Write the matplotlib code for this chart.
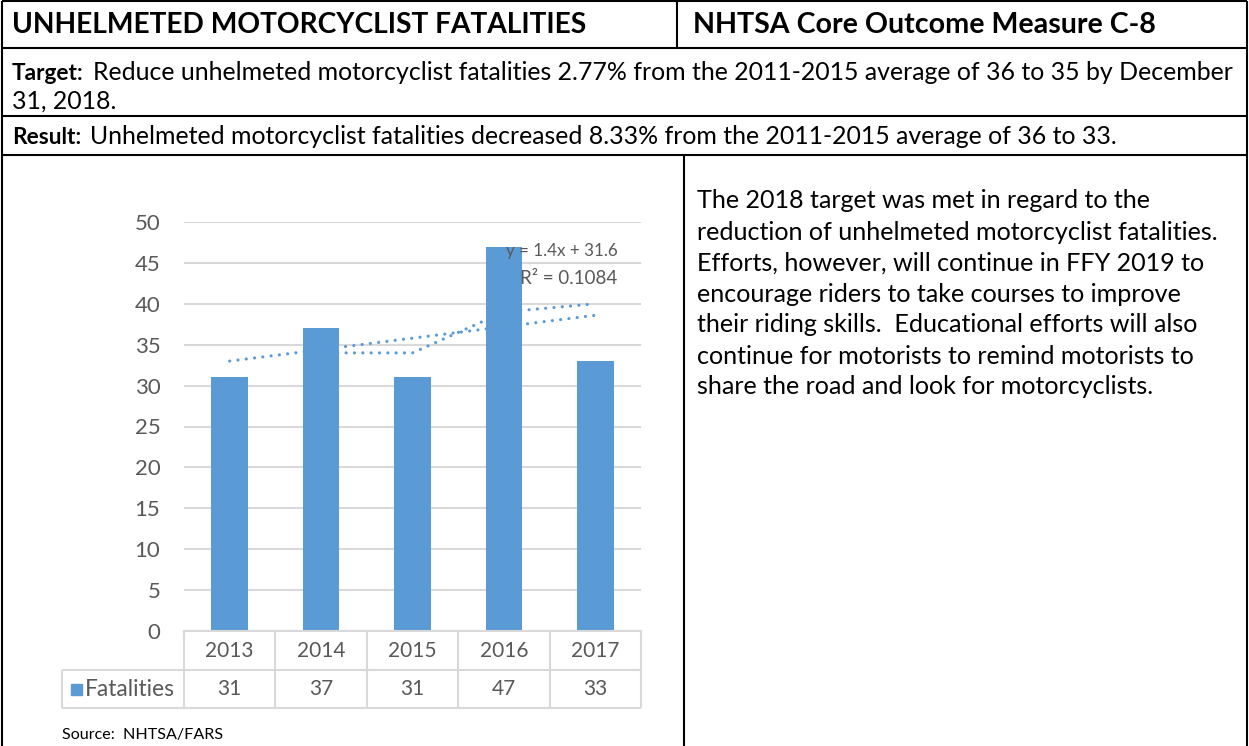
import matplotlib
matplotlib.use("Agg")
import matplotlib.pyplot as plt
from matplotlib.lines import Line2D
from matplotlib.patches import Rectangle

# ---------------- data ----------------
years = ["2013", "2014", "2015", "2016", "2017"]
fatalities = [31, 37, 31, 47, 33]
series_name = "Fatalities"
trend_slope = 1.4
trend_intercept = 31.6
trend_r2 = 0.1084
moving_avg = [34, 34, 39, 40]          # 2-period moving average, 2014-2017
y_ticks = [0, 5, 10, 15, 20, 25, 30, 35, 40, 45, 50]

header_left = "UNHELMETED MOTORCYCLIST FATALITIES"
header_right = "NHTSA Core Outcome Measure C-8"
target_label = "Target:"
target_text1 = "Reduce unhelmeted motorcyclist fatalities 2.77% from the 2011-2015 average of 36 to 35 by December"
target_text2 = "31, 2018."
result_label = "Result:"
result_text = "Unhelmeted motorcyclist fatalities decreased 8.33% from the 2011-2015 average of 36 to 33."
side_lines = [
    "The 2018 target was met in regard to the",
    "reduction of unhelmeted motorcyclist fatalities.",
    "Efforts, however, will continue in FFY 2019 to",
    "encourage riders to take courses to improve",
    "their riding skills.  Educational efforts will also",
    "continue for motorists to remind motorists to",
    "share the road and look for motorcyclists.",
]
source_text = "Source:  NHTSA/FARS"

# ---------------- style ----------------
FONT = "Lato"
BLUE = "#5B9BD5"
GRAY_TXT = "#595959"
GRID = "#D9D9D9"

W, H = 1249, 746
fig = plt.figure(figsize=(W / 100, H / 100), dpi=100)
renderer = fig.canvas.get_renderer()


def fx(x):
    return x / W


def fy(y):
    return 1 - y / H


def ptext(x, y, s, target_w=None, size=12, ha="left", va="center", **kw):
    kw.setdefault("family", FONT)
    t = fig.text(fx(x), fy(y), s, fontsize=size, ha=ha, va=va, **kw)
    if target_w:
        w = t.get_window_extent(renderer).width
        t.set_fontsize(size * target_w / w)
    return t


def width_of(t):
    return t.get_window_extent(renderer).width


def fit_size(s, target_w, weight="normal", size=12):
    t = fig.text(0, 0, s, fontsize=size, family=FONT, weight=weight)
    w = t.get_window_extent(renderer).width
    t.remove()
    return size * target_w / w


def pline(x0, y0, x1, y1, color="black", lw=1.5, z=5):
    fig.add_artist(Line2D([fx(x0), fx(x1)], [fy(y0), fy(y1)], color=color,
                          lw=lw, zorder=z, solid_capstyle="butt"))


# ---------------- document table borders ----------------
BL = 1.5
pline(2, 1, 1247, 1, lw=BL)
pline(2, 1, 2, 746, lw=BL)
pline(1247, 1, 1247, 746, lw=BL)
pline(2, 48, 1247, 48, lw=BL)
pline(2, 116, 1247, 116, lw=BL)
pline(2, 155, 1247, 155, lw=BL)
pline(677, 1, 677, 48, lw=BL)
pline(684, 155, 684, 746, lw=BL)

# ---------------- header / target / result text ----------------
hs = fit_size(header_left, 576, weight="bold")
ptext(12, 25, header_left, size=hs, weight="bold")
ptext(693, 25, header_right, target_w=464, size=hs, weight="bold")

bs0 = fit_size(target_text1, 1150)
lab_size = bs0 * 0.9
tl = ptext(12, 73, target_label, size=lab_size, weight="bold")
rest_x = 12 + width_of(tl) + 9
bs = fit_size(target_text1, 1232 - rest_x)
ptext(rest_x, 73, target_text1, size=bs)
ptext(12, 101, target_text2, size=bs)
rl = ptext(12, 137, result_label, size=lab_size, weight="bold")
ptext(12 + width_of(rl) + 9, 137, result_text, size=bs)

ss = fit_size(side_lines[1], 521)
for i, line in enumerate(side_lines):
    ptext(697, 201 + i * 31, line, size=ss)

ptext(62, 735, source_text, target_w=161, size=11)

# ---------------- chart ----------------
AX_L, AX_R, AX_T, AX_B = 184, 641, 222, 631
ax = fig.add_axes([fx(AX_L), fy(AX_B), (AX_R - AX_L) / W, (AX_B - AX_T) / H])
x = list(range(len(years)))
ax.bar(x, fatalities, width=0.4, color=BLUE, zorder=2)

# linear trendline
tx = [x[0], x[-1]]
ty = [trend_intercept + trend_slope * (xi + 1) for xi in tx]
dot = (0, (0.01, 2.6))
ax.plot(tx, ty, color=BLUE, lw=2.3, linestyle=dot, dash_capstyle="round", zorder=3)
# moving average trendline
ax.plot(x[1:], moving_avg, color=BLUE, lw=2.3, linestyle=dot, dash_capstyle="round", zorder=3)

ax.set_xlim(-0.5, len(years) - 0.5)
ax.set_ylim(0, 50)
ax.set_yticks(y_ticks)
ax.yaxis.grid(True, color=GRID, lw=1.5, zorder=0)
ax.set_axisbelow(True)
for sp in ["top", "right", "left"]:
    ax.spines[sp].set_visible(False)
ax.spines["bottom"].set_color(GRID)
ax.spines["bottom"].set_linewidth(1.5)
ax.set_xticks([])
ax.tick_params(axis="y", length=0, pad=17, labelsize=16, labelcolor=GRAY_TXT)
for lab in ax.get_yticklabels():
    lab.set_family(FONT)

# trendline label
ptext(506, 251, f"y = {trend_slope}x + {trend_intercept}", target_w=111, size=12, color=GRAY_TXT)
ptext(520, 279, f"R² = {trend_r2}", target_w=97, size=12, color=GRAY_TXT)

# ---------------- data table ----------------
col_w = (AX_R - AX_L) / len(years)
R1T, R1B, R2B = 632, 670, 708
LEG_L = 62
TL = 1.5
pline(AX_L, R1B, AX_R, R1B, color=GRID, lw=TL)
pline(LEG_L, R1B, AX_L, R1B, color=GRID, lw=TL)
pline(LEG_L, R2B, AX_R, R2B, color=GRID, lw=TL)
pline(LEG_L, R1B, LEG_L, R2B, color=GRID, lw=TL)
for i in range(len(years) + 1):
    xx = AX_L + i * col_w
    pline(xx, R1T, xx, R2B, color=GRID, lw=TL)
for i, (yr, v) in enumerate(zip(years, fatalities)):
    cx = AX_L + (i + 0.5) * col_w
    ptext(cx, (R1T + R1B) / 2, yr, size=15, ha="center", color=GRAY_TXT)
    ptext(cx, (R1B + R2B) / 2, str(v), size=15, ha="center", color=GRAY_TXT)
fig.add_artist(Rectangle((fx(71), fy(695)), 11 / W, 11 / H, color=BLUE,
                         transform=fig.transFigure))
ptext(85, (R1B + R2B) / 2, series_name, target_w=90, size=14, color=GRAY_TXT)

fig.savefig("out.png", dpi=100)
